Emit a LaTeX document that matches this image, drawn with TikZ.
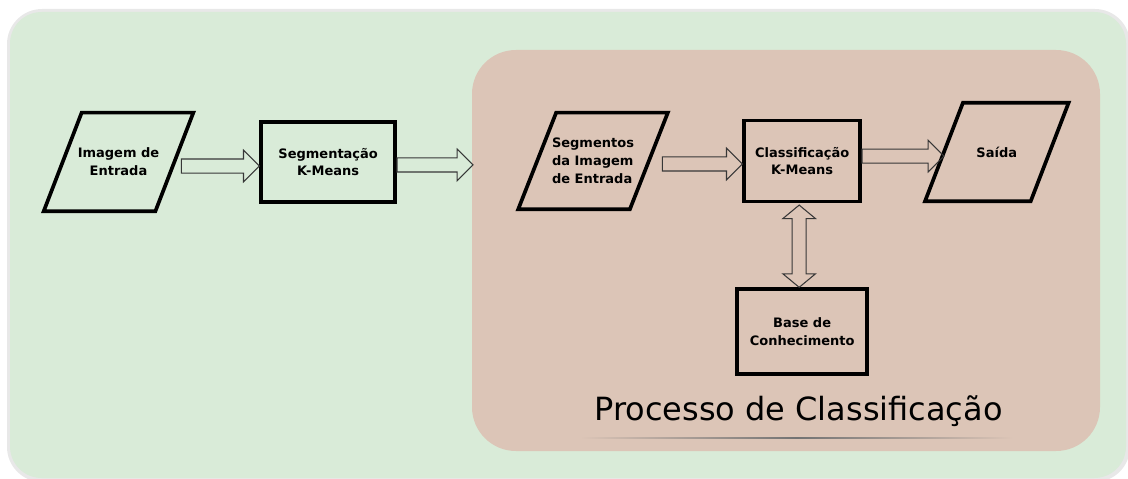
\documentclass[tikz,border=0pt]{standalone}
\usepackage{fontspec}
\setmainfont{DejaVu Sans}
\usetikzlibrary{calc,positioning}
\definecolor{panelgreen}{RGB}{217,235,216}
\definecolor{panelbrown}{RGB}{220,197,183}
\definecolor{panelrim}{RGB}{232,232,232}
\definecolor{arrowgray}{RGB}{55,55,55}

\begin{document}
\begin{tikzpicture}[
  x=0.02cm, y=-0.02cm,
  box/.style={rectangle, draw, line width=2.1pt,
    align=center, font=\bfseries\fontsize{7.4}{10.2}\selectfont},
  io/.style={rectangle, align=center,
    font=\bfseries\fontsize{7.4}{10.2}\selectfont},
  ioline/.style={line width=2.1pt, line join=miter},
  harrow/.style={draw=arrowgray, line width=0.6pt,
    to path={let \p1=(\tikztostart), \p2=(\tikztotarget) in
      (\x1,\y1+4pt) -- (\x2-9pt,\y1+4pt) -- (\x2-9pt,\y1+9pt) -- (\x2,\y1)
      -- (\x2-9pt,\y1-9pt) -- (\x2-9pt,\y1-4pt) -- (\x1,\y1-4pt) -- cycle}},
  varrow/.style={draw=arrowgray, line width=0.6pt,
    to path={let \p1=(\tikztostart), \p2=(\tikztotarget) in
      (\x1,\y1) -- (\x1+9.3pt,\y1-7.7pt) -- (\x1+4pt,\y1-7.7pt)
      -- (\x1+4pt,\y2+7.7pt) -- (\x1+9.3pt,\y2+7.7pt) -- (\x1,\y2)
      -- (\x1-9.3pt,\y2+7.7pt) -- (\x1-4pt,\y2+7.7pt)
      -- (\x1-4pt,\y1-7.7pt) -- (\x1-9.3pt,\y1-7.7pt) -- cycle}},
]
  \useasboundingbox (0,0) rectangle (1128,479);

  % panels
  \fill[panelrim, rounded corners=20] (7,9) rectangle (1130,482);
  \fill[panelgreen, rounded corners=18] (10,12) rectangle (1126,478);
  \fill[panelbrown, rounded corners=25] (472,50) rectangle (1100,451);
  \coordinate (panelw) at (473,166);

  \node[io, minimum width=2.22cm, minimum height=1.96cm] (img) at (118.5,162)
    {Imagem de\\Entrada};
  \node[box, minimum width=2.68cm, minimum height=1.6cm,
    right=1.7cm of img] (seg) {Segmentação\\K-Means};

  \node[io, minimum width=2.22cm, minimum height=1.92cm, align=left] (segs)
    at (593,161) {Segmentos\\da Imagem\\de Entrada};
  \node[box, minimum width=2.32cm, minimum height=1.62cm,
    right=1.87cm of segs] (cls) {Classificação\\K-Means};
  \node[io, minimum width=2.1cm, minimum height=1.96cm,
    right=1.64cm of cls, yshift=0.18cm] (out) {Saída};
  \node[box, minimum width=2.6cm, minimum height=1.7cm,
    below=1.68cm of cls] (base) {Base de\\Conhecimento};

  % slanted outlines of the input/output nodes
  \foreach \n in {img,segs,out}
    \draw[ioline] ([xshift=0.38cm]\n.north west) -- ([xshift=0.38cm]\n.north east)
      -- ([xshift=-0.38cm]\n.south east) -- ([xshift=-0.38cm]\n.south west) -- cycle;

  \node[anchor=base, font=\fontsize{18.2}{21}\selectfont] (title) at (798.5,420)
    {Processo de Classificação};
  \shade[left color=panelbrown, right color=panelbrown, middle color=black!55]
    (580,437.5) rectangle (1013,438.5);

  \draw[harrow] ([xshift=4pt,yshift=-2.3pt]img.east) to (seg.west);
  \draw[harrow] ([yshift=-1.7pt]seg.east) to (panelw);
  \draw[harrow] ([xshift=7.7pt,yshift=-1.7pt]segs.east) to (cls.west);
  \draw[harrow] ([yshift=2.8pt]cls.east) to (out.west);
  \draw[varrow] ([xshift=-1.7pt,yshift=-1pt]cls.south) to (base.north);
\end{tikzpicture}
\end{document}
